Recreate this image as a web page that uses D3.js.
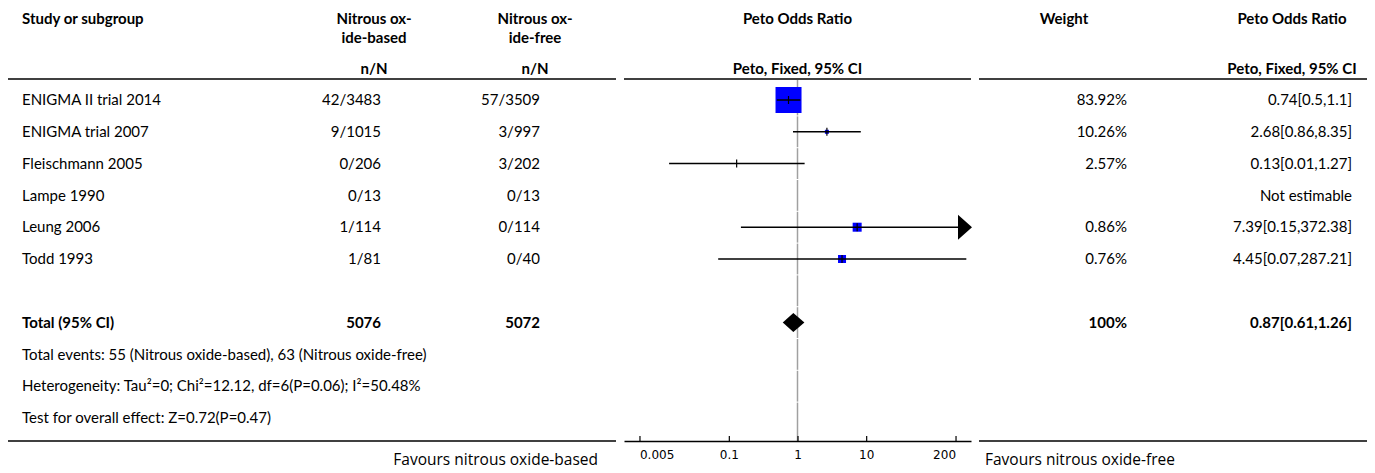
<!DOCTYPE html>
<html lang="en">
<head>
<meta charset="UTF-8">
<title>Forest plot</title>
<style>
  body { margin: 0; background: #fff; }
  svg text { font-family: Lato, "Noto Sans", sans-serif; fill: #000; }
</style>
</head>
<body>
<script src="https://cdn.jsdelivr.net/npm/d3@7"></script>
<script>
// data
var studies = ["ENIGMA II trial 2014", "ENIGMA trial 2007", "Fleischmann 2005", "Lampe 1990", "Leung 2006", "Todd 1993"];
var eventsExp = [42, 9, 0, 0, 1, 1];
var totalExp = [3483, 1015, 206, 13, 114, 81];
var eventsCtl = [57, 3, 3, 0, 0, 0];
var totalCtl = [3509, 997, 202, 13, 114, 40];
var oddsRatio = [0.74, 2.68, 0.13, null, 7.39, 4.45];
var ciLow = [0.5, 0.86, 0.0135, null, 0.15, 0.07];
var ciHigh = [1.1, 8.35, 1.27, null, 372.38, 287.21];
var weights = [83.92, 10.26, 2.57, null, 0.86, 0.76];
var groupTotals = [5076, 5072];    // as printed in the Total row
var pooled = [0.87, 0.61, 1.26];   // OR, low, high
var tickValues = [0.005, 0.1, 1, 10, 200];
var footnotes = [
    "Total events: 55 (Nitrous oxide-based), 63 (Nitrous oxide-free)",
    "Heterogeneity: Tau\u00b2=0; Chi\u00b2=12.12, df=6(P=0.06); I\u00b2=50.48%",
    "Test for overall effect: Z=0.72(P=0.47)"
];

// box size per study (px), as drawn in the original
var boxSize = [26, 4, 1, 0, 9, 8];

var width = 1375, height = 473;
var svg = d3.select("body").append("svg")
    .attr("width", width)
    .attr("height", height);

var fmt = function (v) { return String(Number(v.toFixed(2))); };

// scales
var x = d3.scaleLog().domain([1 / 336, 336]).range([624, 971]);
var rows = d3.range(11);
var y = d3.scaleBand().domain(rows).range([84.1, 433.9]);
var yc = function (i) { return y(i) + y.bandwidth() / 2; };

// column anchors
var col = { study: 22, expC: 374, expR: 381, ctlC: 535, ctlR: 540, wC: 1064, wR: 1127, orC: 1292, orR: 1352 };
var fs = "15px";

// header
var head = svg.append("g").style("font-weight", "bold").style("font-size", fs);
head.append("text").attr("x", col.study).attr("y", 24).text("Study or subgroup");
[[col.expC, "Nitrous ox-", "ide-based"], [col.ctlC, "Nitrous ox-", "ide-free"]].forEach(function (h) {
    head.append("text").attr("x", h[0]).attr("y", 24).attr("text-anchor", "middle").text(h[1]);
    head.append("text").attr("x", h[0]).attr("y", 43).attr("text-anchor", "middle").text(h[2]);
    head.append("text").attr("x", h[0]).attr("y", 74).attr("text-anchor", "middle").text("n/N");
});
head.append("text").attr("x", x(1)).attr("y", 24).attr("text-anchor", "middle").text("Peto Odds Ratio");
head.append("text").attr("x", x(1)).attr("y", 74).attr("text-anchor", "middle").text("Peto, Fixed, 95% CI");
head.append("text").attr("x", col.wC).attr("y", 24).attr("text-anchor", "middle").text("Weight");
head.append("text").attr("x", col.orC).attr("y", 24).attr("text-anchor", "middle").text("Peto Odds Ratio");
head.append("text").attr("x", col.orC).attr("y", 74).attr("text-anchor", "middle").text("Peto, Fixed, 95% CI");

// horizontal rules
var segs = [[8, 616], [624, 971], [979, 1367]];
[79, 441].forEach(function (yy, k) {
    segs.forEach(function (s, j) {
        if (k === 1 && j === 1) return; // axis draws this one
        svg.append("line")
            .attr("x1", s[0]).attr("x2", s[1])
            .attr("y1", yy).attr("y2", yy)
            .style("stroke", "#000").style("stroke-width", 1.5);
    });
});

// line of no effect, split per row
rows.forEach(function (i) {
    var top = i === 0 ? 80 : y(i) + 0.5;
    var bot = i === rows.length - 1 ? 441 : y(i) + y.bandwidth() - 0.5;
    svg.append("line")
        .attr("x1", x(1)).attr("x2", x(1))
        .attr("y1", top).attr("y2", bot)
        .style("stroke", "#a0a0a0").style("stroke-width", 1.5);
});

// study rows
var body = svg.append("g").style("font-size", fs);
studies.forEach(function (s, i) {
    var yy = yc(i);
    body.append("text").attr("x", col.study).attr("y", yy).attr("dy", "0.35em").text(s);
    body.append("text").attr("x", col.expR).attr("y", yy).attr("dy", "0.35em").attr("text-anchor", "end")
        .text(eventsExp[i] + "/" + totalExp[i]);
    body.append("text").attr("x", col.ctlR).attr("y", yy).attr("dy", "0.35em").attr("text-anchor", "end")
        .text(eventsCtl[i] + "/" + totalCtl[i]);
    if (weights[i] != null) {
        body.append("text").attr("x", col.wR).attr("y", yy).attr("dy", "0.35em").attr("text-anchor", "end")
            .text(fmt(weights[i]) + "%");
    }
    body.append("text").attr("x", col.orR).attr("y", yy).attr("dy", "0.35em").attr("text-anchor", "end")
        .text(oddsRatio[i] == null ? "Not estimable"
            : fmt(oddsRatio[i]) + "[" + fmt(ciLow[i]) + "," + fmt(ciHigh[i]) + "]");
});

// forest marks
var xMax = x.domain()[1], xMin = x.domain()[0];
studies.forEach(function (s, i) {
    if (oddsRatio[i] == null) return;
    var yy = yc(i), cx = x(oddsRatio[i]), b = boxSize[i];
    var lo = Math.max(ciLow[i], xMin), hi = Math.min(ciHigh[i], xMax);
    if (b > 1) {
        svg.append("rect")
            .attr("x", cx - b / 2).attr("y", yy - b / 2)
            .attr("width", b).attr("height", b)
            .style("fill", "#0000ff");
    }
    svg.append("line")
        .attr("x1", x(lo)).attr("x2", x(hi) - (ciHigh[i] > xMax ? 12 : 0))
        .attr("y1", yy).attr("y2", yy)
        .style("stroke", "#000").style("stroke-width", 1.5);
    svg.append("line")
        .attr("x1", cx).attr("x2", cx)
        .attr("y1", yy - 4).attr("y2", yy + 4)
        .style("stroke", "#000").style("stroke-width", 1.2);
    if (ciHigh[i] > xMax) {
        var t = x(xMax) + 1;
        svg.append("path")
            .attr("d", "M" + (t - 14) + "," + (yy - 12.5) + "L" + t + "," + yy + "L" + (t - 14) + "," + (yy + 12.5) + "Z")
            .style("fill", "#000");
    }
});

// total row
var tr = 7, ty = yc(tr);
var bold = svg.append("g").style("font-size", fs).style("font-weight", "bold");
bold.append("text").attr("x", col.study).attr("y", ty).attr("dy", "0.35em").text("Total (95% CI)");
bold.append("text").attr("x", col.expR).attr("y", ty).attr("dy", "0.35em").attr("text-anchor", "end")
    .text(groupTotals[0]);
bold.append("text").attr("x", col.ctlR).attr("y", ty).attr("dy", "0.35em").attr("text-anchor", "end")
    .text(groupTotals[1]);
bold.append("text").attr("x", col.wR).attr("y", ty).attr("dy", "0.35em").attr("text-anchor", "end")
    .text("100%");
bold.append("text").attr("x", col.orR).attr("y", ty).attr("dy", "0.35em").attr("text-anchor", "end")
    .text(fmt(pooled[0]) + "[" + fmt(pooled[1]) + "," + fmt(pooled[2]) + "]");
svg.append("path")
    .attr("d", "M" + x(pooled[1]) + "," + ty + "L" + x(pooled[0]) + "," + (ty - 9.5) +
        "L" + x(pooled[2]) + "," + ty + "L" + x(pooled[0]) + "," + (ty + 9.5) + "Z")
    .style("fill", "#000");

// footnotes
footnotes.forEach(function (f, k) {
    body.append("text").attr("x", col.study).attr("y", yc(8 + k)).attr("dy", "0.35em").text(f);
});

// axis
var axis = svg.append("g")
    .attr("transform", "translate(0,441)")
    .call(d3.axisBottom(x).tickValues(tickValues).tickFormat(function (d) { return String(d); })
        .tickSizeInner(-5).tickSizeOuter(0).tickPadding(9));
axis.select(".domain").style("stroke", "#000").style("stroke-width", 1.5);
axis.selectAll(".tick line").style("stroke", "#000").style("stroke-width", 1.2);
axis.selectAll(".tick text")
    .style("font-family", "'DejaVu Sans', sans-serif").style("font-size", "12px")
    .attr("text-anchor", function (d, i) {
        return i === 0 ? "start" : (i === tickValues.length - 1 ? "end" : "middle");
    });

// favours labels
svg.append("text").attr("x", 598).attr("y", 465).attr("text-anchor", "end")
    .style("font-family", "'Open Sans', sans-serif").style("font-size", "15.5px")
    .text("Favours nitrous oxide-based");
svg.append("text").attr("x", 985).attr("y", 465)
    .style("font-family", "'Open Sans', sans-serif").style("font-size", "15.5px")
    .text("Favours nitrous oxide-free");
</script>
</body>
</html>
